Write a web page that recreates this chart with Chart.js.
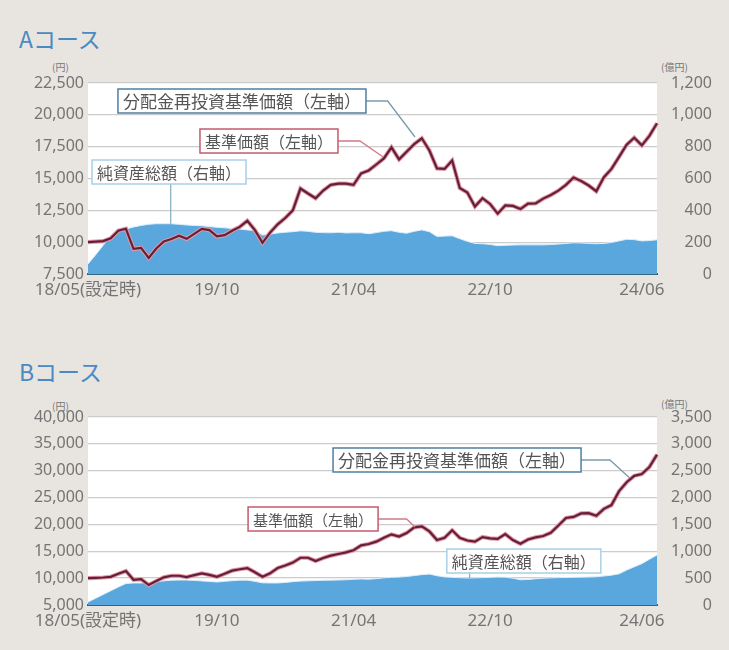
<!DOCTYPE html>
<html lang="ja">
<head>
<meta charset="UTF-8">
<title>Aコース・Bコース</title>
<script src="https://cdn.jsdelivr.net/npm/chart.js"></script>
<style>
  body { margin: 0; background: #e8e5e0; }
  .wrap { position: relative; width: 729px; height: 650px; overflow: hidden;
          font-family: "Noto Sans", "Noto Sans CJK JP", sans-serif; }
  canvas { position: absolute; left: 0; }
  .title { position: absolute; left: 19px; font-size: 23px; line-height: 1; color: #4a8ac4;
           font-family: "Noto Sans CJK JP", sans-serif; }
  .unit { position: absolute; font-size: 10px; line-height: 1; color: #777;
          font-family: "Noto Sans CJK JP", sans-serif; }
</style>
</head>
<body>
<div class="wrap">
  <div class="title" style="top:27px">Aコース</div>
  <div class="unit" style="left:52px;top:62px">(円)</div>
  <div class="unit" style="left:661px;top:62px">(億円)</div>
  <canvas id="chartA" width="729" height="310" style="top:0"></canvas>

  <div class="title" style="top:360px">Bコース</div>
  <div class="unit" style="left:52px;top:401px">(円)</div>
  <div class="unit" style="left:661px;top:399px">(億円)</div>
  <canvas id="chartB" width="729" height="330" style="top:320px"></canvas>
</div>

<script>
// months 18/05 .. 24/08
const months = [
  '18/05','18/06','18/07','18/08','18/09','18/10','18/11','18/12',
  '19/01','19/02','19/03','19/04','19/05','19/06','19/07','19/08','19/09','19/10','19/11','19/12',
  '20/01','20/02','20/03','20/04','20/05','20/06','20/07','20/08','20/09','20/10','20/11','20/12',
  '21/01','21/02','21/03','21/04','21/05','21/06','21/07','21/08','21/09','21/10','21/11','21/12',
  '22/01','22/02','22/03','22/04','22/05','22/06','22/07','22/08','22/09','22/10','22/11','22/12',
  '23/01','23/02','23/03','23/04','23/05','23/06','23/07','23/08','23/09','23/10','23/11','23/12',
  '24/01','24/02','24/03','24/04','24/05','24/06','24/07','24/08'
];
const tickMonths = ['18/05', '19/10', '21/04', '22/10', '24/06'];
const tickLabels = ['18/05(設定時)', '19/10', '21/04', '22/10', '24/06'];

// Aコース
const navA = [
  10000, 10050, 10080, 10300, 10900, 11050, 9470, 9550, 8760, 9500,
  10050, 10250, 10500, 10260, 10650, 11050, 10950, 10450, 10550, 10900,
  11200, 11680, 10950, 9950, 10750, 11400, 11900, 12500, 14210, 13820,
  13450, 14050, 14500, 14600, 14600, 14500, 15400, 15630, 16100, 16580,
  17450, 16500, 17100, 17700, 18160, 17200, 15790, 15750, 16420, 14250,
  13900, 12800, 13450, 13000, 12240, 12880, 12850, 12600, 13030, 13050,
  13420, 13700, 14050, 14500, 15080, 14800, 14450, 14000, 15100, 15750,
  16700, 17650, 18200, 17600, 18350, 19340
];
const reinvestA = navA; // 分配金なし：2本の線は重なっている
const assetsA = [
  63, 120, 180, 240, 265, 283, 295, 305, 312, 316,
  316, 316, 312, 308, 305, 303, 298, 293, 290, 286,
  282, 277, 273, 245, 250, 258, 262, 266, 271, 268,
  262, 260, 259, 262, 258, 259, 259, 253, 260, 268,
  272, 262, 256, 268, 277, 266, 236, 238, 240, 222,
  205, 192, 190, 186, 178, 180, 182, 183, 183, 183,
  183, 185, 188, 192, 196, 195, 192, 190, 192, 198,
  208, 218, 216, 208, 210, 215
];
const leftTicksA = [7500, 10000, 12500, 15000, 17500, 20000, 22500];
const rightTicksA = [0, 200, 400, 600, 800, 1000, 1200];

// Bコース
const navB = [
  10000, 10050, 10120, 10250, 10800, 11330, 9700, 9800, 8720, 9450,
  10150, 10450, 10450, 10200, 10550, 10900, 10600, 10250, 10800, 11400,
  11650, 11880, 11100, 10250, 10900, 11880, 12350, 12900, 13800, 13800,
  13200, 13750, 14200, 14500, 14800, 15200, 16100, 16350, 16800, 17500,
  18150, 17750, 18400, 19450, 19650, 18700, 17100, 17500, 18900, 17500,
  17000, 16800, 17650, 17400, 17300, 18200, 17100, 16400, 17200, 17600,
  17850, 18450, 19800, 21200, 21400, 22050, 22100, 21600, 22900, 23600,
  26200, 27850, 29050, 29380, 30700, 33000
];
const reinvestB = navB;
const assetsB = [
  56, 125, 195, 265, 335, 400, 410, 410, 410, 430,
  450, 462, 465, 465, 458, 448, 438, 428, 440, 452,
  462, 462, 440, 412, 410, 410, 420, 435, 445, 450,
  455, 460, 463, 466, 470, 478, 485, 480, 490, 505,
  515, 520, 530, 548, 565, 575, 545, 522, 515, 508,
  503, 505, 510, 515, 520, 518, 500, 470, 475, 488,
  500, 505, 510, 512, 515, 518, 521, 525, 540, 555,
  580, 650, 710, 770, 850, 931
];
const leftTicksB = [5000, 10000, 15000, 20000, 25000, 30000, 35000, 40000];
const rightTicksB = [0, 500, 1000, 1500, 2000, 2500, 3000, 3500];

const fontFamily = '"Noto Sans", "Noto Sans CJK JP", sans-serif';
const tickColor = '#747474';

// white plot area
const plotBg = {
  id: 'plotBg',
  beforeDraw(chart) {
    const { ctx, chartArea: a } = chart;
    ctx.save();
    ctx.fillStyle = '#ffffff';
    ctx.fillRect(a.left, a.top, a.right - a.left, a.bottom - a.top);
    ctx.restore();
  }
};

// labelled boxes with leader lines, placed in data coordinates
function makeCallouts(items) {
  return {
    id: 'callouts',
    afterDatasetsDraw(chart) {
      const { ctx, scales } = chart;
      items.forEach(c => {
        ctx.save();
        ctx.font = c.size + 'px "Noto Sans CJK JP", sans-serif';
        const w = ctx.measureText(c.text).width + 10;
        const h = 24;
        const x = scales.x.getPixelForValue(c.at[0]);
        const y = scales.y.getPixelForValue(c.at[1]);
        const pts = c.path.map(p => [scales.x.getPixelForValue(p[0]), scales[p[2] || 'y'].getPixelForValue(p[1])]);

        ctx.strokeStyle = c.lead;
        ctx.lineWidth = 1.3;
        ctx.beginPath();
        if (c.from === 'bottom') ctx.moveTo(pts[0][0], y + h / 2);
        else ctx.moveTo(x + w, y);
        pts.forEach(p => ctx.lineTo(p[0], p[1]));
        ctx.stroke();

        ctx.fillStyle = '#ffffff';
        ctx.fillRect(x, y - h / 2, w, h);
        ctx.strokeStyle = c.color;
        ctx.lineWidth = 1.5;
        ctx.strokeRect(x, y - h / 2, w, h);
        ctx.fillStyle = '#555555';
        ctx.textBaseline = 'middle';
        ctx.fillText(c.text, x + 5, y + 1);
        ctx.restore();
      });
    }
  };
}

function makeChart(id, d) {
  new Chart(document.getElementById(id), {
    type: 'line',
    data: {
      labels: months,
      datasets: [
        { label: '分配金再投資基準価額（左軸）', data: d.reinvest, yAxisID: 'y',
          borderColor: '#61213a', borderWidth: 2.2, pointRadius: 0, order: 0 },
        { label: '基準価額（左軸）', data: d.nav, yAxisID: 'y',
          borderColor: '#e797a4', borderWidth: 4.2, pointRadius: 0, order: 1 },
        { label: '純資産総額（右軸）', data: d.assets, yAxisID: 'y1', fill: 'start',
          backgroundColor: '#5aa7de', borderColor: '#dceefa', borderWidth: 1,
          pointRadius: 0, order: 2 }
      ]
    },
    options: {
      responsive: false,
      animation: false,
      layout: { padding: { top: d.padTop, right: 17, left: 0, bottom: 0 } },
      plugins: { legend: { display: false }, tooltip: { enabled: false } },
      scales: {
        x: {
          type: 'category',
          offset: false,
          grid: { display: false, drawTicks: false },
          border: { display: true, color: '#33677f', width: 2 },
          ticks: {
            autoSkip: false, maxRotation: 0, padding: 6, color: tickColor,
            font: { family: fontFamily, size: 17 },
            callback(v, i) {
              const k = tickMonths.indexOf(months[i]);
              return k < 0 ? null : tickLabels[k];
            }
          },
          afterFit(s) { s.height = d.xHeight; }
        },
        y: {
          position: 'left',
          min: d.left[0], max: d.left[d.left.length - 1],
          afterBuildTicks(s) { s.ticks = d.left.map(v => ({ value: v })); },
          ticks: { padding: 4, color: tickColor, font: { family: fontFamily, size: 16 },
                   callback: v => v.toLocaleString('en-US') },
          grid: { color: '#cccccc', lineWidth: 1.3, drawTicks: false },
          border: { display: false },
          afterFit(s) { s.width = 88; }
        },
        y1: {
          position: 'right',
          min: d.right[0], max: d.right[d.right.length - 1],
          afterBuildTicks(s) { s.ticks = d.right.map(v => ({ value: v })); },
          ticks: { crossAlign: 'far', color: tickColor, font: { family: fontFamily, size: 16 },
                   callback: v => v.toLocaleString('en-US') },
          grid: { display: false, drawTicks: false },
          border: { display: false },
          afterFit(s) { s.width = 55; }
        }
      }
    },
    plugins: [plotBg, makeCallouts(d.callouts)]
  });
}

makeChart('chartA', {
  nav: navA, reinvest: reinvestA, assets: assetsA,
  left: leftTicksA, right: rightTicksA, padTop: 83, xHeight: 36,
  callouts: [
    { text: '分配金再投資基準価額（左軸）', size: 17, color: '#4f7fa0', lead: '#7d9aaa',
      at: [3.95, 21086], path: [[39.5, 21086], [43.1, 18260]] },
    { text: '基準価額（左軸）', size: 16, color: '#c45a6c', lead: '#d07a88',
      at: [14.76, 17944], path: [[35.85, 17944], [38.9, 16690]] },
    { text: '純資産総額（右軸）', size: 16, color: '#a8d0ea', lead: '#8fb0c4', from: 'bottom',
      at: [0.53, 15510], path: [[10.9, 316, 'y1']] }
  ]
});

makeChart('chartB', {
  nav: navB, reinvest: reinvestB, assets: assetsB,
  left: leftTicksB, right: rightTicksB, padTop: 97, xHeight: 45,
  callouts: [
    { text: '分配金再投資基準価額（左軸）', size: 17, color: '#4f7fa0', lead: '#7d9aaa',
      at: [32.3, 31995], path: [[68.8, 31995], [71.4, 28640]] },
    { text: '基準価額（左軸）', size: 15, color: '#c45a6c', lead: '#d07a88',
      at: [21.1, 21010], path: [[42.0, 21010], [43.1, 19520]] },
    { text: '純資産総額（右軸）', size: 16, color: '#a8d0ea', lead: '#8fb0c4', from: 'bottom',
      at: [47.3, 13191], path: [[50.3, 503, 'y1']] }
  ]
});
</script>
</body>
</html>
